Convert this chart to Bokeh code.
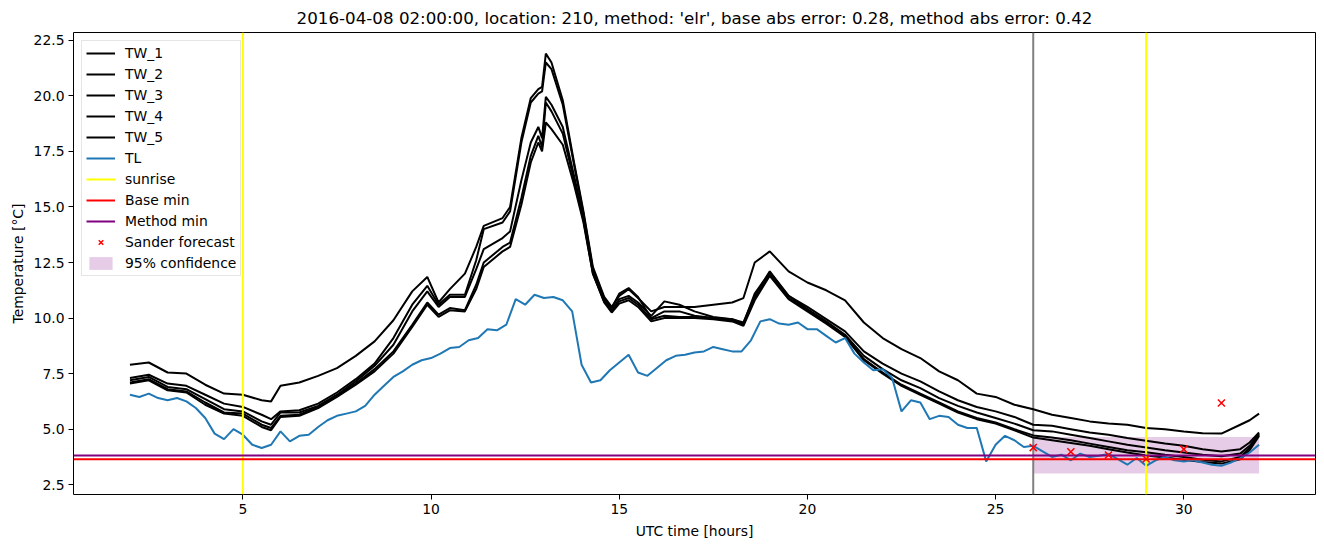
import numpy as np
from bokeh.plotting import figure
from bokeh.models import Range1d, FixedTicker, NumeralTickFormatter, Legend, LegendItem
from bokeh.embed import file_html
from bokeh.resources import INLINE

# ---------------- data ----------------
tw_hours = [2.0, 2.5, 3.0, 3.5, 4.0, 4.5, 5.0, 5.5, 5.75, 6.0, 6.5, 7.0, 7.5, 8.0, 8.5, 9.0,
            9.5, 9.9, 10.2, 10.5, 10.9, 11.2, 11.4, 11.9, 12.1, 12.4, 12.65, 12.85, 12.95,
            13.05, 13.2, 13.5, 13.8, 14.05, 14.3, 14.6, 14.8, 15.0, 15.25, 15.5, 15.85, 16.2,
            16.6, 17.0, 17.5, 18.0, 18.3, 18.6, 19.0, 19.5, 20.0, 20.5, 21.0, 21.5, 22.0,
            22.5, 23.0, 23.5, 24.0, 24.5, 25.0, 25.5, 26.0, 26.5, 27.0, 27.5, 28.0, 28.5,
            29.0, 29.5, 30.0, 30.5, 31.0, 31.5, 31.75, 32.0]
tw_1 = [7.9, 8.0, 7.55, 7.5, 7.0, 6.6, 6.55, 6.3, 6.25, 6.95, 7.1, 7.4, 7.75, 8.3, 8.95, 9.9,
        11.2, 11.85, 10.7, 11.3, 12.0, 13.2, 14.15, 14.5, 15.0, 18.1, 19.9, 20.3, 20.4,
        21.9, 21.5, 19.8, 17.0, 14.8, 12.3, 10.95, 10.5, 11.0, 11.3, 10.9, 10.3, 10.5,
        10.5, 10.5, 10.6, 10.7, 10.9, 12.5, 13.0, 12.1, 11.6, 11.25, 10.8, 9.8, 9.1,
        8.6, 8.2, 7.6, 7.2, 6.6, 6.45, 6.1, 5.9, 5.65, 5.5, 5.35, 5.25, 5.2,
        5.05, 5.0, 4.9, 4.82, 4.8, 5.2, 5.4, 5.7]
tw_2 = [7.3, 7.45, 7.05, 6.95, 6.55, 6.15, 6.0, 5.65, 5.45, 5.8, 5.85, 6.15, 6.65, 7.25, 7.95, 9.1,
        10.6, 11.45, 10.6, 11.05, 11.05, 12.6, 14.0, 14.3, 14.8, 17.9, 19.7, 20.1, 20.2,
        21.5, 21.2, 19.6, 16.9, 14.7, 12.2, 10.9, 10.45, 11.1, 11.35, 10.95, 10.0, 10.3,
        10.3, 10.1, 10.0, 9.95, 9.8, 11.0, 12.1, 11.0, 10.5, 9.95, 9.4, 8.5, 7.95,
        7.5, 7.15, 6.7, 6.3, 6.0, 5.8, 5.55, 5.2, 5.15, 5.0, 4.85, 4.75, 4.6,
        4.48, 4.35, 4.25, 4.1, 4.0, 4.1, 4.4, 4.85]
tw_3 = [7.2, 7.35, 6.9, 6.8, 6.35, 5.9, 5.8, 5.35, 5.2, 5.75, 5.75, 6.05, 6.55, 7.15, 7.85, 8.8,
        10.3, 11.2, 10.5, 10.95, 10.95, 12.2, 13.1, 13.6, 13.9, 16.2, 17.9, 18.6, 18.1,
        19.95, 19.6, 18.6, 16.4, 14.5, 12.1, 10.8, 10.35, 10.85, 11.0, 10.7, 10.1, 10.75,
        10.6, 10.3, 10.05, 9.95, 9.75, 11.1, 12.05, 11.0, 10.4, 9.85, 9.25, 8.3, 7.7,
        7.2, 6.85, 6.4, 6.05, 5.75, 5.5, 5.25, 4.95, 4.9, 4.75, 4.6, 4.45, 4.3,
        4.18, 4.05, 3.95, 3.85, 3.78, 3.9, 4.25, 4.8]
tw_4 = [7.1, 7.25, 6.8, 6.7, 6.2, 5.75, 5.7, 5.2, 5.05, 5.6, 5.65, 6.0, 6.5, 7.05, 7.7, 8.5,
        9.7, 10.7, 10.15, 10.45, 10.35, 11.5, 12.5, 13.2, 13.4, 15.4, 17.3, 18.2, 17.7,
        19.7, 19.3, 18.3, 16.2, 14.4, 12.0, 10.75, 10.3, 10.75, 10.9, 10.6, 9.95, 10.1,
        10.05, 10.05, 10.0, 9.9, 9.7, 10.9, 11.95, 10.9, 10.35, 9.8, 9.2, 8.15, 7.55,
        7.0, 6.6, 6.2, 5.8, 5.5, 5.3, 5.0, 4.72, 4.63, 4.5, 4.35, 4.2, 4.05,
        3.96, 3.85, 3.75, 3.62, 3.55, 3.75, 4.15, 4.75]
tw_5 = [7.05, 7.2, 6.75, 6.65, 6.1, 5.7, 5.6, 5.1, 4.95, 5.55, 5.6, 5.95, 6.45, 7.0, 7.6, 8.4,
        9.6, 10.6, 10.05, 10.35, 10.3, 11.3, 12.3, 13.0, 13.2, 15.1, 17.0, 17.9, 17.5,
        18.8, 18.5, 17.8, 16.0, 14.3, 12.0, 10.7, 10.25, 10.65, 10.8, 10.5, 9.85, 10.0,
        10.0, 10.0, 9.95, 9.85, 9.65, 10.8, 11.9, 10.85, 10.3, 9.75, 9.15, 8.1, 7.5,
        6.95, 6.55, 6.15, 5.75, 5.45, 5.25, 4.95, 4.62, 4.5, 4.38, 4.25, 4.1, 3.95,
        3.82, 3.72, 3.62, 3.52, 3.45, 3.65, 4.05, 4.7]

tl_values = [6.55, 6.45, 6.6, 6.4, 6.3, 6.4, 6.25, 5.95, 5.5, 4.8, 4.55, 5.0,
             4.75, 4.3, 4.15, 4.3, 4.9, 4.45, 4.7, 4.75, 5.1, 5.4, 5.6, 5.7,
             5.8, 6.05, 6.55, 6.95, 7.35, 7.6, 7.9, 8.1, 8.2, 8.4, 8.65, 8.7,
             9.0, 9.1, 9.5, 9.45, 9.7, 10.85, 10.6, 11.05, 10.9, 10.95, 10.8, 10.3,
             7.9, 7.1, 7.2, 7.65, 8.0, 8.35, 7.55, 7.4, 7.75, 8.1, 8.3, 8.35,
             8.45, 8.5, 8.7, 8.6, 8.5, 8.5, 9.0, 9.85, 9.95, 9.75, 9.7, 9.8,
             9.5, 9.5, 9.2, 8.9, 9.1, 8.4, 8.0, 7.65, 7.7, 7.3, 5.8, 6.3,
             6.2, 5.45, 5.6, 5.55, 5.2, 5.05, 5.05, 3.55, 4.3, 4.7, 4.5, 4.2,
             4.25, 4.0, 3.75, 3.85, 3.6, 3.9, 3.75, 3.8, 3.88, 3.65, 3.4, 3.7,
             3.35, 3.6, 3.75, 3.6, 3.55, 3.6, 3.5, 3.4, 3.35, 3.5, 3.7, 3.95, 4.3]
tl_hours = [2 + 0.25 * i for i in range(len(tl_values))]

sunrise_hours = [5, 29]
forecast_start = [26]
base_min = [3.65]
method_min = [3.82]
sander_hours = [26, 27, 28, 29, 30, 31]
sander_values = [4.17, 3.98, 3.84, 3.66, 4.1, 6.18]
conf_start, conf_end = [26], [32]
conf_low, conf_high = [3.0], [4.65]

x_ticks = [5, 10, 15, 20, 25, 30]
y_ticks = [2.5, 5.0, 7.5, 10.0, 12.5, 15.0, 17.5, 20.0, 22.5]

title = "2016-04-08 02:00:00, location: 210, method: 'elr', base abs error: 0.28, method abs error: 0.42"

# ---------------- figure ----------------
FONT = "DejaVu Sans"
xr = Range1d(0.5, 33.5)
yr = Range1d(2.06, 22.85)
p = figure(frame_width=1242, frame_height=462, x_range=xr, y_range=yr,
           output_backend="svg", toolbar_location=None,
           min_border_left=73, min_border_right=9, min_border_top=32, min_border_bottom=53)
p.title.text = title
p.title.align = "center"
p.title.text_font = FONT
p.title.text_font_size = "16.7px"
p.title.text_font_style = "normal"
p.title.text_color = "black"

p.xgrid.visible = False
p.ygrid.visible = False
p.outline_line_color = "black"
p.outline_line_width = 1
p.outline_line_alpha = 1

for ax in (p.xaxis[0], p.yaxis[0]):
    ax.major_label_text_font = FONT
    ax.major_label_text_font_size = "13.9px"
    ax.major_label_text_color = "black"
    ax.axis_label_text_font = FONT
    ax.axis_label_text_font_size = "13.9px"
    ax.axis_label_text_font_style = "normal"
    ax.axis_label_text_color = "black"
    ax.major_tick_out = 5
    ax.major_tick_in = 0
    ax.minor_tick_out = 0
    ax.minor_tick_in = 0
    ax.axis_line_color = None
    ax.major_tick_line_color = "black"
    ax.major_label_standoff = 4
p.xaxis.ticker = FixedTicker(ticks=x_ticks)
p.yaxis.ticker = FixedTicker(ticks=y_ticks)
p.yaxis.formatter = NumeralTickFormatter(format="0.0")
p.xaxis.axis_label = "UTC time [hours]"
p.yaxis.axis_label = "Temperature [°C]"
p.xaxis.axis_label_standoff = 6
p.yaxis.axis_label_standoff = 5

LW = 2

# confidence band
r_conf = p.quad(left=conf_start, right=conf_end, bottom=conf_low, top=conf_high,
                fill_color="purple", fill_alpha=0.2, line_color=None)

# forecast start marker line
p.segment(x0=forecast_start, x1=forecast_start, y0=[yr.start], y1=[yr.end],
          line_color="gray", line_width=LW)

tw_series = [tw_1, tw_2, tw_3, tw_4, tw_5]
tw_renderers = []
for vals in tw_series:
    tw_renderers.append(p.line(tw_hours, vals, line_color="black", line_width=LW))

r_tl = p.line(tl_hours, tl_values, line_color="#1f77b4", line_width=LW)

r_sun = p.segment(x0=sunrise_hours, x1=sunrise_hours,
                  y0=[yr.start] * len(sunrise_hours), y1=[yr.end] * len(sunrise_hours),
                  line_color="yellow", line_width=LW)
r_base = p.segment(x0=[xr.start], x1=[xr.end], y0=base_min, y1=base_min,
                   line_color="red", line_width=LW)
r_method = p.segment(x0=[xr.start], x1=[xr.end], y0=method_min, y1=method_min,
                     line_color="purple", line_width=LW)
r_sander = p.scatter(sander_hours, sander_values, marker="x", size=10,
                     line_color="red", line_width=1.5)

items = [LegendItem(label=f"TW_{i+1}", renderers=[r]) for i, r in enumerate(tw_renderers)]
items += [
    LegendItem(label="TL", renderers=[r_tl]),
    LegendItem(label="sunrise", renderers=[r_sun]),
    LegendItem(label="Base min", renderers=[r_base]),
    LegendItem(label="Method min", renderers=[r_method]),
    LegendItem(label="Sander forecast", renderers=[r_sander]),
    LegendItem(label="95% confidence", renderers=[r_conf]),
]
legend = Legend(items=items, location="top_left")
legend.margin = 8
legend.padding = 4
legend.spacing = 5
legend.glyph_width = 29
legend.glyph_height = 16
legend.label_height = 16
legend.label_standoff = 10
legend.label_text_font = FONT
legend.label_text_font_size = "13.9px"
legend.label_text_color = "black"
legend.border_line_color = "#cccccc"
legend.border_line_width = 1
legend.background_fill_alpha = 0.8
p.add_layout(legend)

open("out.html", "w").write(file_html(p, INLINE))
